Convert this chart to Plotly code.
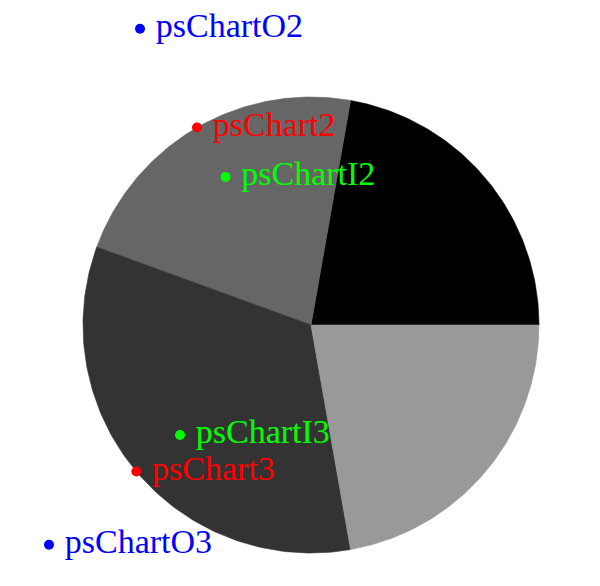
import numpy as np
import plotly.graph_objects as go

# pie data (pstricks psChart style)
values = [2, 2, 3, 2]
slice_colors = ['#000000', '#666666', '#333333', '#999999']

# labelled points: slice index, radius factor, name, colour
label_slices = [1, 1, 1, 2, 2, 2]
label_radii = [1.0, 0.75, 1.5, 1.0, 0.75, 1.5]
label_names = ['psChart2', 'psChartI2', 'psChartO2', 'psChart3', 'psChartI3', 'psChartO3']
label_colors = ['#ff0000', '#00ff00', '#0000ff', '#ff0000', '#00ff00', '#0000ff']

W, H = 600, 586
cx, cy, R = 311, 325, 228  # pixel centre / radius of the pie

total = sum(values)
cum = np.cumsum([0] + values)

fig = go.Figure()

# slices as filled wedges, counterclockwise from 3 o'clock
for i, v in enumerate(values):
    a0 = cum[i] / total * 2 * np.pi
    a1 = cum[i + 1] / total * 2 * np.pi
    t = np.linspace(a0, a1, 120)
    xs = np.concatenate([[0], np.cos(t), [0]])
    ys = np.concatenate([[0], np.sin(t), [0]])
    fig.add_trace(go.Scatter(
        x=xs, y=ys, mode='lines', fill='toself',
        fillcolor=slice_colors[i], line=dict(width=0.6, color=slice_colors[i]),
        hoverinfo='skip', showlegend=False,
    ))

mid_angles = [(cum[i] + values[i] / 2) / total * 2 * np.pi for i in range(len(values))]
lx = [r * np.cos(mid_angles[s]) for s, r in zip(label_slices, label_radii)]
ly = [r * np.sin(mid_angles[s]) for s, r in zip(label_slices, label_radii)]

fig.add_trace(go.Scatter(
    x=lx, y=ly, mode='markers+text',
    text=[' ' + t for t in label_names],
    textposition='middle right',
    textfont=dict(family='Liberation Serif', size=34, color=label_colors),
    marker=dict(color=label_colors, size=10, line=dict(width=0)),
    hoverinfo='skip', showlegend=False, cliponaxis=False,
))

fig.update_layout(
    width=W, height=H,
    margin=dict(l=0, r=0, t=0, b=0),
    paper_bgcolor='white', plot_bgcolor='white',
    xaxis=dict(range=[-cx / R, (W - cx) / R], visible=False, domain=[0, 1]),
    yaxis=dict(range=[-(H - cy) / R, cy / R], visible=False, domain=[0, 1]),
)

fig.write_html("out.html", config={'displayModeBar': False},
               post_script="document.body.style.margin='0';")
